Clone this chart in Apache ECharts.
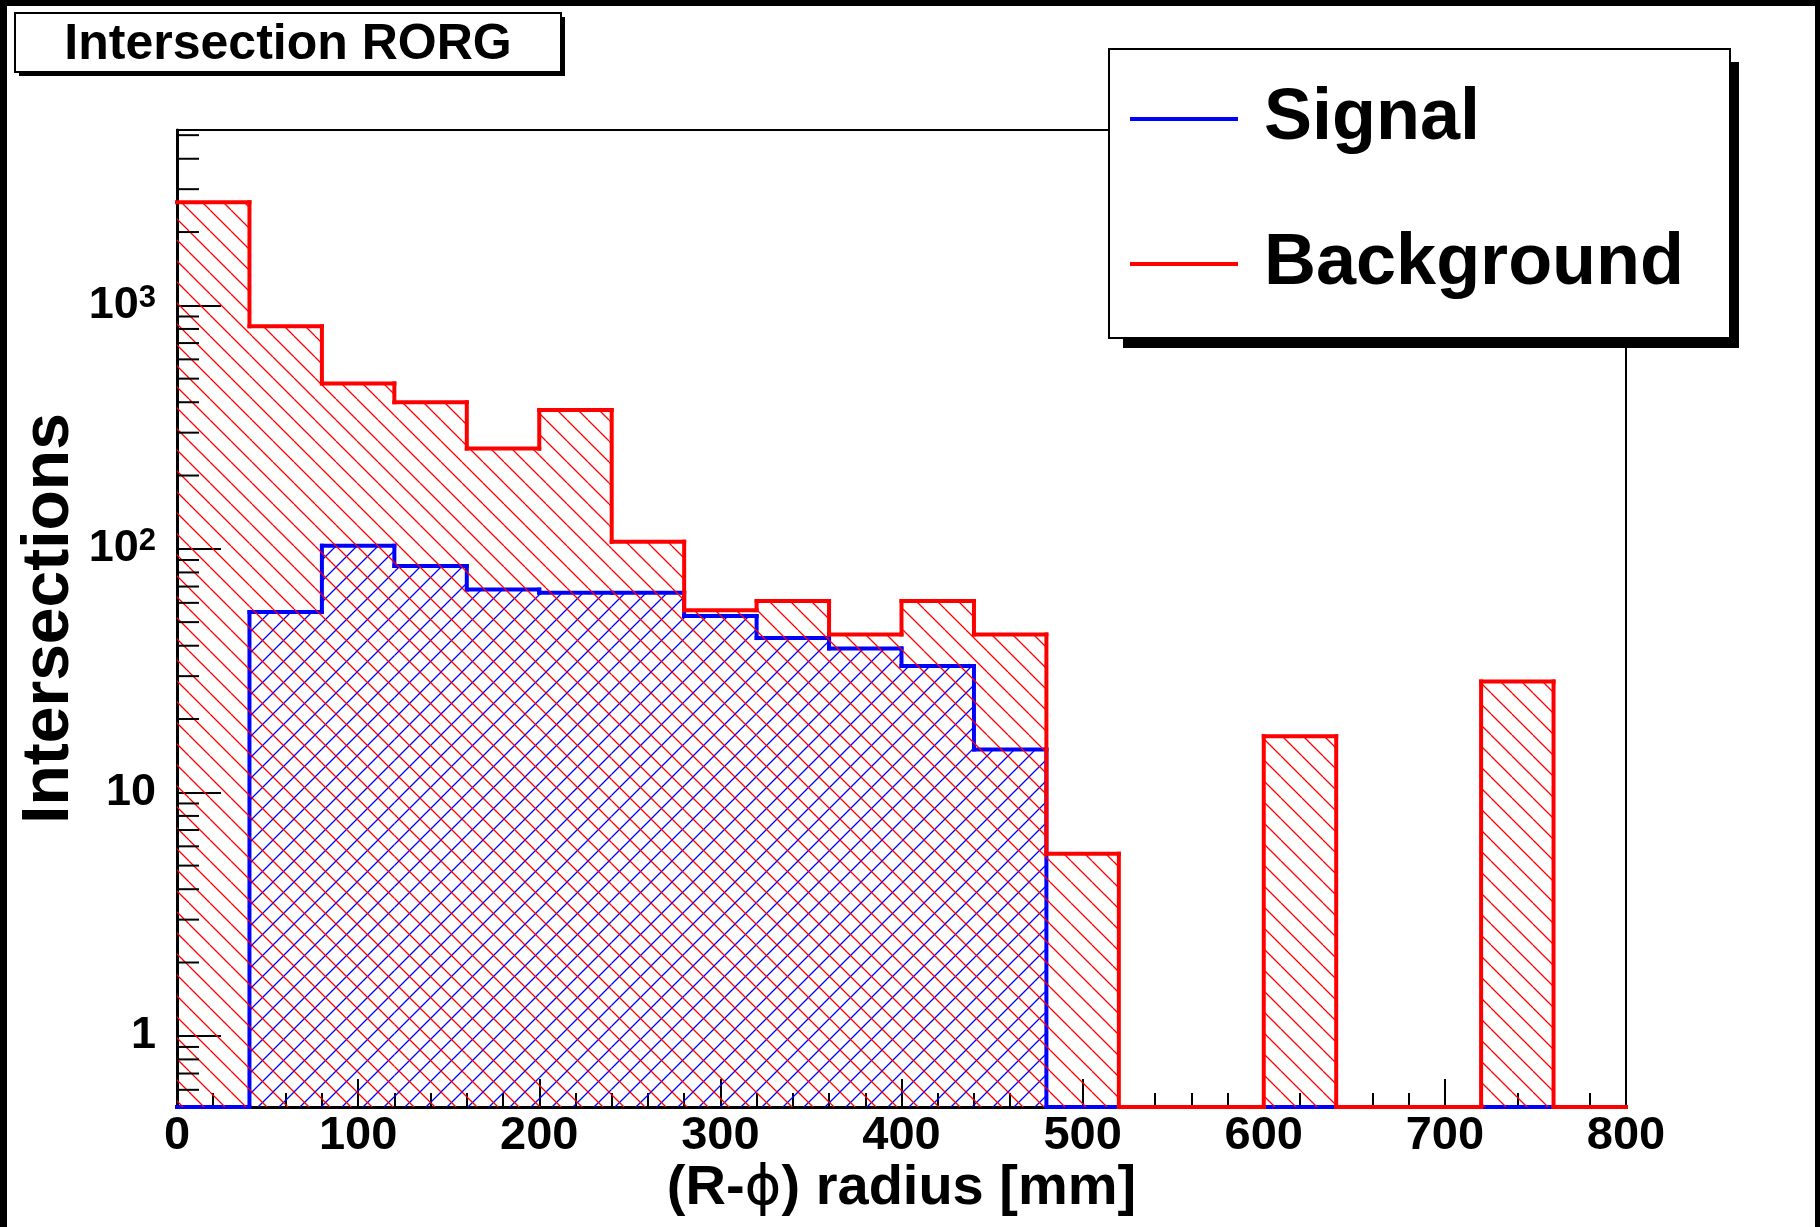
<!DOCTYPE html>
<html>
<head>
<meta charset="utf-8">
<script src="https://cdn.jsdelivr.net/npm/echarts@6/dist/echarts.min.js"></script>
<style>
html,body{margin:0;padding:0;background:#000;}
#c{width:1820px;height:1227px;}
</style>
</head>
<body>
<div id="c"></div>
<script>
// ---------------- data ----------------
const binEdges = [0,40,80,120,160,200,240,280,320,360,400,440,480,520,560,600,640,680,720,760,800];
const signalCounts = [0,55,103,85,68,66,66,53,43,39,33,15,0,0,0,0,0,0,0,0];
const backgroundCounts = [2650,820,478,400,258,372,107,56,61,44.5,61,44.5,5.6,0,0,17,0,0,28.5,0];
const seriesNames = ['Signal','Background'];
const xMin = 0, xMax = 800, xStep = 100;
const yMin = 0.51, yMax = 5250;
const yMinorTicks = [0.6,0.7,0.8,0.9,2,3,4,5,6,7,8,9,20,30,40,50,60,70,80,90,200,300,400,500,600,700,800,900,2000,3000,4000,5000];

// ---------------- helpers ----------------
const FONT = '"Liberation Sans", Arial, Helvetica, sans-serif';

function makeHatch(color, down) {
  const s = 21;
  const c = document.createElement('canvas');
  c.width = s; c.height = s;
  const g = c.getContext('2d');
  g.strokeStyle = color; g.lineWidth = 1.3;
  g.beginPath();
  [-s, 0, s].forEach(function (k) {
    if (down) { g.moveTo(k, 0); g.lineTo(k + s, s); }
    else { g.moveTo(k, s); g.lineTo(k + s, 0); }
  });
  g.stroke();
  return { image: c, repeat: 'repeat' };
}

function histSeries(name, counts, color, hatch) {
  const data = counts.map(function (c, i) { return [binEdges[i], binEdges[i + 1], c]; });
  return {
    type: 'custom', name: name, data: data, clip: false, silent: true,
    itemStyle: { color: color },
    encode: { x: [0, 1], y: 2 },
    renderItem: function (params, api) {
      const i = params.dataIndex;
      const lvl = function (v) { return v > yMin ? Math.min(v, yMax) : yMin; };
      const lo = api.value(0), hi = api.value(1);
      const cur = lvl(api.value(2));
      const prev = lvl(i > 0 ? counts[i - 1] : 0);
      const a = api.coord([lo, cur]);
      const b = api.coord([hi, cur]);
      const base = api.coord([lo, yMin])[1];
      const yPrev = api.coord([lo, prev])[1];
      const ls = { stroke: color, lineWidth: 4, lineCap: 'square' };
      const kids = [];
      if (cur > yMin) {
        kids.push({ type: 'rect', shape: { x: a[0], y: a[1], width: b[0] - a[0], height: base - a[1] }, style: { fill: hatch } });
      }
      kids.push({ type: 'line', shape: { x1: a[0], y1: a[1], x2: b[0], y2: b[1] }, style: ls });
      if (lo > xMin && Math.abs(yPrev - a[1]) > 0.5) {
        kids.push({ type: 'line', shape: { x1: a[0], y1: yPrev, x2: a[0], y2: a[1] }, style: ls });
      }
      if (i === counts.length - 1 && cur > yMin) {
        kids.push({ type: 'line', shape: { x1: b[0], y1: b[1], x2: b[0], y2: base }, style: ls });
      }
      return { type: 'group', children: kids };
    }
  };
}

function yLabel(v) {
  const e = Math.round(Math.log10(v));
  if (Math.abs(v - Math.pow(10, e)) > 1e-6 * v) return '';
  if (e <= 1) return '{b|' + Math.round(v) + '}';
  return '{b|10}{s|' + e + '}';
}

// ---------------- chart ----------------
const chart = echarts.init(document.getElementById('c'), null, { renderer: 'canvas', width: 1820, height: 1227 });

const option = {
  animation: false,
  backgroundColor: '#000',
  grid: {
    left: 177, right: 194, top: 130, bottom: 120,
    show: true, borderColor: '#000', borderWidth: 2, backgroundColor: 'transparent',
    containLabel: false, outerBoundsMode: 'none'
  },
  xAxis: {
    type: 'value', min: xMin, max: xMax, interval: xStep,
    axisLine: { show: true, onZero: false, lineStyle: { color: '#000', width: 3 } },
    axisTick: { show: true, inside: true, length: 28, lineStyle: { color: '#000', width: 2 } },
    minorTick: { show: true, splitNumber: 5, length: 14, lineStyle: { color: '#000', width: 2 } },
    splitLine: { show: false },
    axisLabel: { fontSize: 47, fontWeight: 'bold', color: '#000', fontFamily: FONT, margin: 6, lineHeight: 47 },
    name: '(R-{p|ϕ}) radius [mm]',
    nameLocation: 'middle', nameGap: 52, nameMoveOverlap: false,
    nameTextStyle: {
      fontSize: 56, fontWeight: 'bold', color: '#000', fontFamily: FONT, lineHeight: 60,
      rich: { p: { fontSize: 56, fontWeight: 'normal', fontFamily: '"DejaVu Sans", sans-serif', color: '#000', lineHeight: 60 } }
    }
  },
  yAxis: {
    type: 'log', logBase: 10, min: yMin, max: yMax,
    axisLine: { show: true, onZero: false, lineStyle: { color: '#000', width: 3 } },
    axisTick: { show: true, inside: true, length: 44, lineStyle: { color: '#000', width: 2 } },
    minorTick: { show: false },
    splitLine: { show: false },
    axisLabel: {
      showMinLabel: false, showMaxLabel: false, margin: 21,
      formatter: yLabel,
      rich: {
        b: { fontSize: 45, fontWeight: 'bold', color: '#000', fontFamily: FONT },
        s: { fontSize: 31, fontWeight: 'bold', color: '#000', fontFamily: FONT, verticalAlign: 'top' }
      }
    },
    name: 'Intersections', nameLocation: 'middle', nameGap: 92, nameMoveOverlap: false,
    nameTextStyle: { fontSize: 66, fontWeight: 'bold', color: '#000', fontFamily: FONT, lineHeight: 70 }
  },
  legend: {
    show: true, z: 60, orient: 'vertical', left: 1130, top: 79,
    padding: 0, itemWidth: 108, itemHeight: 4, itemGap: 65, icon: 'rect',
    selectedMode: false,
    data: [
      { name: seriesNames[0], itemStyle: { color: '#0000ff' } },
      { name: seriesNames[1], itemStyle: { color: '#ff0000' } }
    ],
    textStyle: { fontSize: 72, fontWeight: 'bold', color: '#000', fontFamily: FONT, lineHeight: 80, padding: [0, 0, 0, 21] }
  },
  graphic: [
    { type: 'rect', z: -100, silent: true, shape: { x: 7, y: 6, width: 1808, height: 1221 }, style: { fill: '#fff' } },
    { type: 'rect', z: 50, silent: true, shape: { x: 19, y: 17, width: 546, height: 59 }, style: { fill: '#000' } },
    { type: 'rect', z: 51, silent: true, shape: { x: 15, y: 13, width: 546, height: 59 }, style: { fill: '#fff', stroke: '#000', lineWidth: 2 } },
    { type: 'text', z: 52, silent: true, x: 288, y: 45,
      style: { text: 'Intersection RORG', fontSize: 50, fontWeight: 'bold', fontFamily: FONT, fill: '#000', align: 'center', verticalAlign: 'middle' } },
    { type: 'rect', z: 50, silent: true, shape: { x: 1123, y: 62, width: 616, height: 286 }, style: { fill: '#000' } },
    { type: 'rect', z: 51, silent: true, shape: { x: 1109, y: 49, width: 621, height: 289 }, style: { fill: '#fff', stroke: '#000', lineWidth: 2 } }
  ],
  series: [
    histSeries(seriesNames[0], signalCounts, '#0000ff', makeHatch('#0000ff', false)),
    histSeries(seriesNames[1], backgroundCounts, '#ff0000', makeHatch('#ff0000', true)),
    {
      type: 'custom', silent: true, z: 5, clip: false,
      data: yMinorTicks.map(function (v) { return [xMin, v]; }),
      encode: { x: 0, y: 1 },
      renderItem: function (params, api) {
        const p = api.coord([api.value(0), api.value(1)]);
        return { type: 'line', shape: { x1: p[0], y1: p[1], x2: p[0] + 22, y2: p[1] }, style: { stroke: '#000', lineWidth: 2 } };
      }
    }
  ]
};
chart.setOption(option);
</script>
</body>
</html>
